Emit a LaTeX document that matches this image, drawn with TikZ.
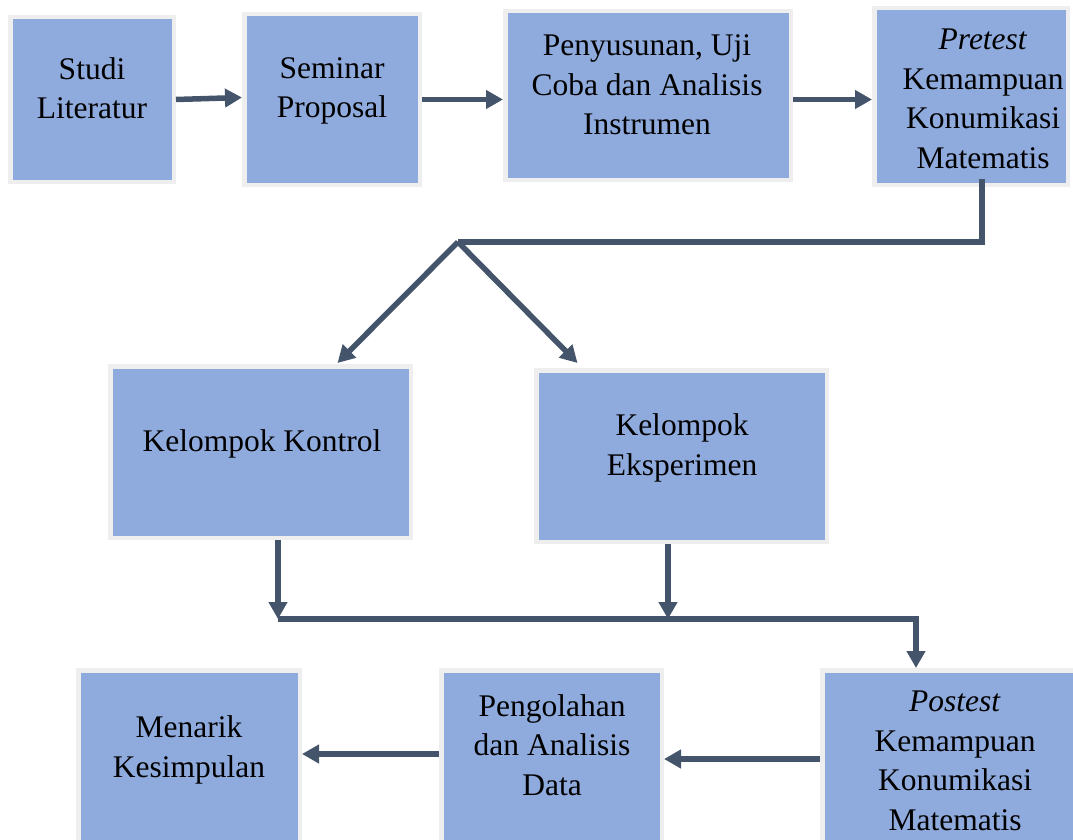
\documentclass[tikz,border=0pt]{standalone}
\usepackage{fontspec}
\setmainfont{Liberation Serif}
\usetikzlibrary{arrows.meta}
\definecolor{boxblue}{HTML}{8FAADC}
\definecolor{boxrim}{HTML}{EEEEEE}
\definecolor{arrowgray}{HTML}{44546A}
\begin{document}
\begin{tikzpicture}[x=1pt,y=-1pt,
		box/.style={draw=boxrim, fill=boxblue, line width=4.5pt, rectangle},
		txt/.style={align=center, inner sep=0pt, font=\fontsize{31.5}{39.5}\selectfont},
		line/.style={draw=arrowgray, line width=5.5pt},
		arr/.style={line, -{Triangle[length=17pt,width=18pt]}}]
		\clip (0,0) rectangle (1073,840);
		\node (b1) [box, minimum width=163.5, minimum height=164.5] at (92,99.5) {};
		\node (b2) [box, minimum width=175.5, minimum height=170.5] at (332,99.5) {};
		\node (b3) [box, minimum width=285.5, minimum height=168.5] at (648,95.5) {};
		\node (b4) [box, minimum width=193.5, minimum height=176.5] at (971,96.5) {};
		\node (b5) [box, minimum width=300.5, minimum height=171.5] at (260.5,452) {};
		\node (b6) [box, minimum width=290.5, minimum height=171.5] at (681.5,456) {};
		\node (b7) [box, minimum width=221.5, minimum height=187.5] at (189,764) {};
		\node (b8) [box, minimum width=220.5, minimum height=187.5] at (551.5,764) {};
		\node (b9) [box, minimum width=255.5, minimum height=187.5] at (950,764) {};
		\node (t1) [txt] at (92,88) {Studi\\Literatur};
		\node (t2) [txt] at (332,91) {Seminar\\Proposal};
		\node (t3) [txt] at (647,85) {Penyusunan, Uji\\Coba dan Analisis\\Instrumen};
		\node (t4) [txt] at (983,99) {\textit{Pretest}\\Kemampuan\\Konumikasi\\Matematis};
		\node (t5) [txt] at (262,444) {Kelompok Kontrol};
		\node (t6) [txt] at (682,448) {Kelompok\\Eksperimen};
		\node (t7) [txt] at (189,750) {Menarik\\Kesimpulan};
		\node (t8) [txt] at (552,745) {Pengolahan\\dan Analisis\\Data};
		\node (t9) [txt] at (955,761) {\textit{Postest}\\Kemampuan\\Konumikasi\\Matematis};
		\coordinate (k1) at (982,242);
		\coordinate (k2) at (458,242);
		\coordinate (m1) at (278,619);
		\coordinate (m2) at (916,619);
		\coordinate (m3) at (668,619);
		\draw [arr] (b1.east) -- ([yshift=2pt]b2.west);
		\draw [arr] (b2.east) -- (b2.east -| b3.west);
		\draw [arr] ([yshift=-4pt]b3.east) -- ([yshift=-4pt]b3.east -| b4.west);
		\draw [line] ([yshift=8pt]k1 |- b4.south) -- (k1) -- (k2);
		\draw [arr] (k2) -- ([xshift=77pt,yshift=1pt]b5.north);
		\draw [arr] (k2) -- ([xshift=-104pt,yshift=5pt]b6.north);
		\draw [arr] (m1 |- b5.south) -- (m1);
		\draw [arr] (m3 |- b6.south) -- (m3);
		\draw [arr] (m1) -- (m2) -- (m2 |- b9.north);
		\draw [arr] ([yshift=5pt]b9.west) -- ([yshift=5pt]b9.west -| b8.east);
		\draw [arr] ([yshift=10pt]b8.west) -- ([yshift=10pt]b8.west -| b7.east);
\end{tikzpicture}
\end{document}
